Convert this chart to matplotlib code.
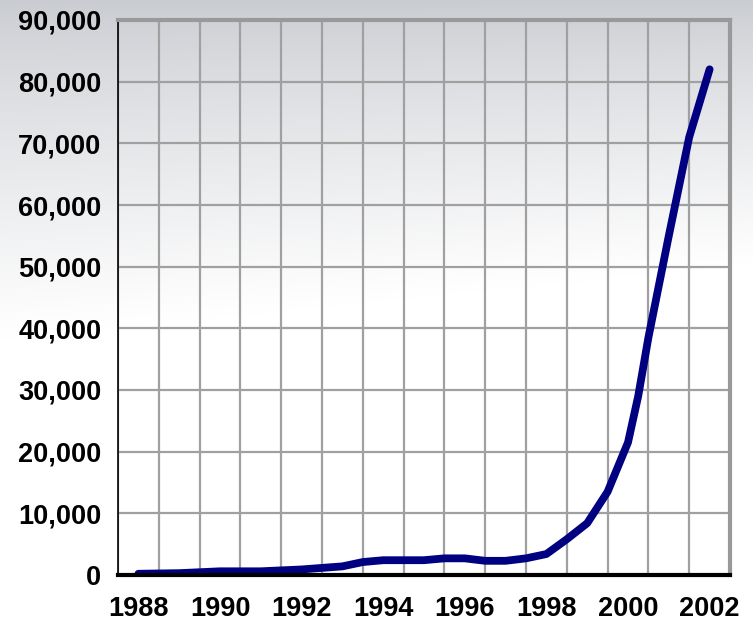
import matplotlib
matplotlib.use("Agg")
import matplotlib.pyplot as plt
from matplotlib.ticker import FuncFormatter, MultipleLocator
import numpy as np

# years shown on the category axis
years = list(range(1988, 2003))
tick_years = years[::2]

# half-year readings (year, value)
point_years = [1988, 1989, 1990, 1991, 1992, 1993, 1993.5, 1994, 1995, 1995.5,
               1996, 1996.5, 1997, 1997.5, 1998, 1998.5, 1999, 1999.5, 2000,
               2000.25, 2000.5, 2001, 2001.5, 2002]
values = [200, 300, 600, 600, 900, 1400, 2100, 2400, 2400, 2700,
          2700, 2300, 2300, 2700, 3400, 5800, 8400, 13500, 21500,
          29000, 38500, 55000, 71000, 82000]

plt.rcParams['font.family'] = ['Liberation Sans', 'DejaVu Sans']

fig = plt.figure(figsize=(7.53, 6.25), dpi=100)

# background gradient (gray at top, white lower down)
bg = fig.add_axes([0, 0, 1, 1], zorder=-10)
rows = np.linspace(0, 1, 256)[:, None]
cols = np.linspace(0, 1, 256)[None, :]
top = np.array([0.79, 0.80, 0.82])
fade = np.clip(rows / (0.42 + 0.12 * (1 - cols)), 0, 1) ** 0.8
img = top[None, None, :] * (1 - fade[..., None]) + np.ones(3)[None, None, :] * fade[..., None]
bg.imshow(img, aspect='auto', extent=[0, 1, 0, 1], origin='upper')
bg.axis('off')

ax = fig.add_axes([118 / 753, 1 - 575 / 625, (730 - 118) / 753, (575 - 20) / 625])
ax.patch.set_alpha(0)

xpos = [y - years[0] for y in point_years]
ax.plot(xpos, values, color='#000080', lw=5.6, solid_capstyle='round',
        solid_joinstyle='round', zorder=5)

ax.set_xlim(-0.5, len(years) - 0.5)
ax.set_ylim(0, 90000)

ax.set_xticks([y - years[0] for y in tick_years])
ax.set_xticklabels([str(y) for y in tick_years])
ax.set_xticks(np.arange(len(years) + 1) - 0.5, minor=True)
ax.yaxis.set_major_locator(MultipleLocator(10000))
ax.yaxis.set_major_formatter(FuncFormatter(lambda v, p: f'{int(v):,}'))

ax.grid(False)
ax.grid(True, which='minor', axis='x', color='#a0a0a0', lw=1.6)
ax.grid(True, which='major', axis='y', color='#a0a0a0', lw=1.6)
ax.set_axisbelow(True)

ax.tick_params(which='both', length=0)
ax.tick_params(axis='y', pad=12, labelsize=19.5)
ax.tick_params(axis='x', pad=15, labelsize=19.5)
for lab in ax.get_xticklabels() + ax.get_yticklabels():
    lab.set_fontweight('bold')

ax.spines['left'].set_color('black')
ax.spines['left'].set_linewidth(1.2)
ax.spines['bottom'].set_color('black')
ax.spines['bottom'].set_linewidth(3)
ax.spines['right'].set_color('#999999')
ax.spines['right'].set_linewidth(3)
ax.spines['top'].set_color('#999999')
ax.spines['top'].set_linewidth(3)
ax.spines['bottom'].set_zorder(6)

fig.savefig('out.png', dpi=100)
